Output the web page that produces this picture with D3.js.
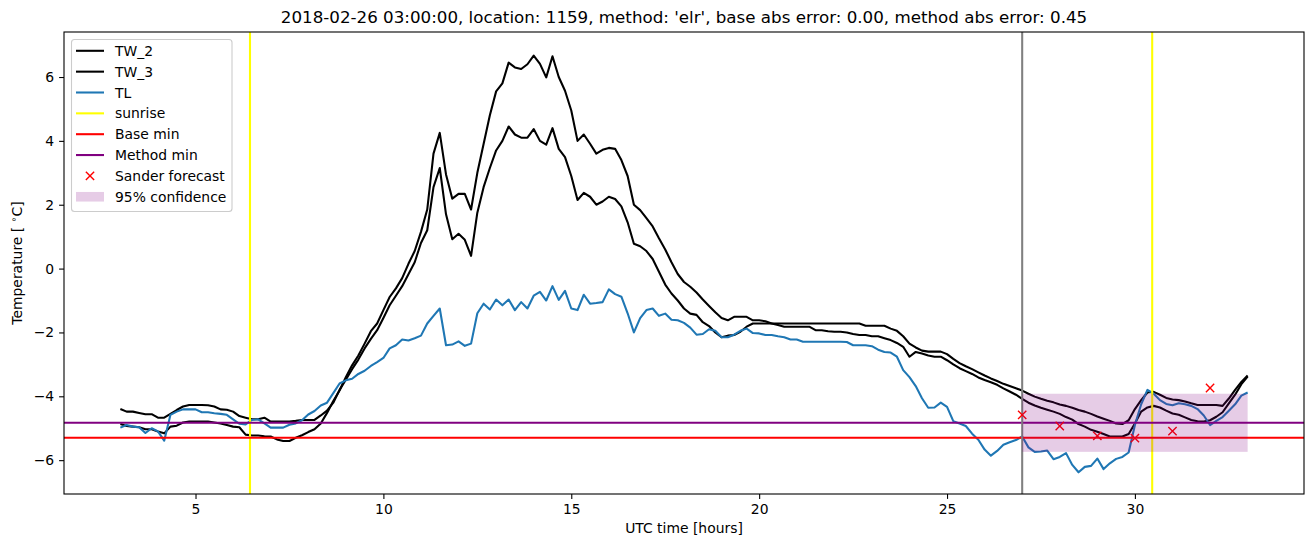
<!DOCTYPE html>
<html><head><meta charset="utf-8">
<script src="https://cdn.jsdelivr.net/npm/d3@7"></script>
<style>
body{margin:0;background:#fff}
svg{display:block}
text{font-family:"DejaVu Sans",sans-serif;fill:#000}
</style>
</head><body>
<svg id="chart" width="1313" height="547"></svg>
<script>
// ---------------- data ----------------
const startHour = 3;          // first sample, UTC hours
const stepHours = 1 / 6;      // 10-minute sampling

const tw2 = [
-4.87,-4.93,-4.95,-4.97,-5.03,-5.03,-5.10,-5.16,-4.95,-4.92,-4.82,-4.79,-4.79,-4.79,-4.79,-4.82,-4.85,-4.90,-4.95,-4.97,
-5.20,-5.23,-5.23,-5.25,-5.26,-5.35,-5.40,-5.40,-5.30,-5.22,-5.12,-5.03,-4.85,-4.52,-4.15,-3.82,-3.40,-3.03,-2.72,-2.35,
-1.96,-1.72,-1.30,-0.89,-0.62,-0.30,0.15,0.55,1.15,1.85,3.60,4.25,2.95,2.19,2.34,2.34,1.85,3.00,3.90,4.80,
5.55,5.80,6.45,6.30,6.25,6.40,6.67,6.41,5.99,6.65,6.00,5.57,4.95,4.00,4.20,3.91,3.60,3.72,3.78,3.75,
3.40,2.90,2.00,1.83,1.58,1.32,0.95,0.60,0.20,-0.17,-0.42,-0.57,-0.75,-0.97,-1.17,-1.37,-1.55,-1.62,-1.51,-1.51,
-1.51,-1.62,-1.62,-1.65,-1.72,-1.72,-1.72,-1.72,-1.72,-1.72,-1.72,-1.72,-1.72,-1.72,-1.72,-1.72,-1.72,-1.72,-1.72,-1.79,
-1.79,-1.79,-1.79,-1.88,-1.95,-2.12,-2.35,-2.47,-2.57,-2.60,-2.60,-2.60,-2.68,-2.83,-2.96,-3.06,-3.15,-3.25,-3.35,-3.44,
-3.52,-3.61,-3.68,-3.75,-3.82,-3.92,-4.01,-4.08,-4.14,-4.19,-4.26,-4.30,-4.36,-4.43,-4.48,-4.55,-4.63,-4.70,-4.77,-4.85,
-4.87,-4.75,-4.40,-4.12,-3.88,-3.86,-3.95,-4.05,-4.10,-4.12,-4.16,-4.22,-4.27,-4.27,-4.27,-4.27,-4.30,-4.07,-3.80,-3.55,
-3.35
];

const tw3 = [
-4.40,-4.48,-4.48,-4.52,-4.56,-4.56,-4.67,-4.67,-4.55,-4.43,-4.32,-4.27,-4.27,-4.27,-4.28,-4.32,-4.41,-4.42,-4.48,-4.62,
-4.67,-4.72,-4.72,-4.67,-4.79,-4.79,-4.79,-4.79,-4.77,-4.74,-4.74,-4.74,-4.60,-4.45,-4.20,-3.80,-3.48,-3.15,-2.85,-2.50,
-2.20,-1.93,-1.55,-1.15,-0.85,-0.55,-0.18,0.20,0.80,1.20,2.55,3.15,1.70,0.92,1.09,0.90,0.40,1.75,2.55,3.15,
3.70,4.00,4.45,4.20,4.10,4.10,4.37,4.00,3.88,4.40,3.75,3.49,2.90,2.15,2.37,2.25,2.00,2.10,2.25,2.18,
1.95,1.45,0.78,0.70,0.55,0.30,-0.10,-0.50,-0.78,-1.00,-1.25,-1.41,-1.45,-1.68,-1.80,-2.00,-2.15,-2.10,-2.08,-1.98,
-1.82,-1.72,-1.72,-1.72,-1.72,-1.77,-1.82,-1.82,-1.82,-1.82,-1.82,-1.93,-1.93,-1.96,-1.98,-1.98,-2.00,-2.05,-2.08,-2.08,
-2.12,-2.12,-2.18,-2.24,-2.33,-2.45,-2.76,-2.61,-2.66,-2.72,-2.76,-2.76,-2.87,-3.00,-3.12,-3.21,-3.30,-3.41,-3.49,-3.56,
-3.64,-3.75,-3.85,-3.95,-4.08,-4.20,-4.29,-4.36,-4.42,-4.48,-4.55,-4.65,-4.73,-4.87,-4.95,-5.05,-5.11,-5.18,-5.26,-5.26,
-5.26,-5.18,-4.85,-4.48,-4.35,-4.30,-4.35,-4.45,-4.54,-4.58,-4.66,-4.74,-4.78,-4.79,-4.75,-4.64,-4.50,-4.22,-3.95,-3.62,
-3.38
];

const tl = [
-4.98,-4.90,-4.95,-4.97,-5.15,-5.00,-5.10,-5.39,-4.58,-4.48,-4.41,-4.41,-4.41,-4.50,-4.50,-4.53,-4.55,-4.58,-4.72,-4.86,
-4.88,-4.74,-4.72,-4.85,-4.98,-4.98,-4.98,-4.89,-4.85,-4.75,-4.57,-4.46,-4.29,-4.20,-3.90,-3.60,-3.50,-3.45,-3.30,-3.20,
-3.05,-2.93,-2.80,-2.50,-2.40,-2.22,-2.25,-2.18,-2.10,-1.72,-1.48,-1.25,-2.40,-2.38,-2.28,-2.42,-2.35,-1.40,-1.10,-1.28,
-0.97,-1.15,-0.97,-1.30,-1.05,-1.25,-0.85,-0.73,-1.00,-0.55,-0.98,-0.70,-1.25,-1.30,-0.82,-1.10,-1.08,-1.05,-0.65,-0.80,
-0.88,-1.40,-2.00,-1.55,-1.30,-1.25,-1.48,-1.41,-1.60,-1.62,-1.70,-1.85,-2.07,-2.05,-1.90,-1.95,-2.15,-2.15,-2.07,-1.95,
-1.88,-2.02,-2.03,-2.08,-2.08,-2.12,-2.15,-2.22,-2.22,-2.29,-2.29,-2.29,-2.29,-2.29,-2.29,-2.29,-2.30,-2.40,-2.40,-2.40,
-2.43,-2.54,-2.61,-2.63,-2.76,-3.18,-3.40,-3.68,-4.06,-4.36,-4.35,-4.20,-4.33,-4.78,-4.85,-4.93,-5.17,-5.36,-5.67,-5.86,
-5.71,-5.52,-5.44,-5.37,-5.26,-5.60,-5.74,-5.73,-5.70,-5.97,-5.90,-5.78,-6.15,-6.38,-6.21,-6.18,-5.95,-6.28,-6.10,-5.96,
-5.90,-5.76,-4.90,-4.25,-3.80,-3.92,-4.12,-4.24,-4.28,-4.22,-4.25,-4.30,-4.40,-4.60,-4.90,-4.77,-4.65,-4.45,-4.25,-3.98,
-3.88
];

const sunriseHours = [6.45, 30.46];
const baseMin = -5.30;
const methodMin = -4.83;
const forecastHour = 27;
const sanderHours = [27, 28, 29, 30, 31, 32];
const sanderValues = [-4.58, -4.93, -5.24, -5.31, -5.09, -3.74];
const confHours = [27, 33];
const confLow = -5.74;
const confHigh = -3.92;
const xTicks = [5, 10, 15, 20, 25, 30];
const yTicks = [-6, -4, -2, 0, 2, 4, 6];
const titleText = "2018-02-26 03:00:00, location: 1159, method: 'elr', base abs error: 0.00, method abs error: 0.45";
const legendLabels = ["TW_2", "TW_3", "TL", "sunrise", "Base min", "Method min", "Sander forecast", "95% confidence"];

// ---------------- layout ----------------
const W = 1313, H = 547;
const L = 64, R = 1304, T = 32, B = 494;
const fs = 13.9;

const svg = d3.select("#chart");
const x = d3.scaleLinear().domain([1.5, 34.5]).range([L, R]);
const y = d3.scaleLinear().domain([-7.06, 7.41]).range([B, T]);

svg.append("defs").append("clipPath").attr("id", "clip")
  .append("rect").attr("x", L).attr("y", T).attr("width", R - L).attr("height", B - T);

const plot = svg.append("g").attr("clip-path", "url(#clip)");

function series(vals) {
  return vals.map((v, i) => ({t: startHour + i * stepHours, v}));
}
const line = d3.line().x(d => x(d.t)).y(d => y(d.v));

const black = "#000000", blue = "#1f77b4";
plot.append("path").datum(series(tw2)).attr("d", line)
  .attr("fill", "none").attr("stroke", black).attr("stroke-width", 2.08).attr("stroke-linejoin", "round");
plot.append("path").datum(series(tw3)).attr("d", line)
  .attr("fill", "none").attr("stroke", black).attr("stroke-width", 2.08).attr("stroke-linejoin", "round");
plot.append("path").datum(series(tl)).attr("d", line)
  .attr("fill", "none").attr("stroke", blue).attr("stroke-width", 2.08).attr("stroke-linejoin", "round");

// sunrise lines
plot.selectAll(".sun").data(sunriseHours).enter().append("line")
  .attr("x1", d => x(d)).attr("x2", d => x(d)).attr("y1", T).attr("y2", B)
  .attr("stroke", "#ffff00").attr("stroke-width", 2.08);

// horizontal min lines
plot.append("line").attr("x1", L).attr("x2", R).attr("y1", y(baseMin)).attr("y2", y(baseMin))
  .attr("stroke", "#ff0000").attr("stroke-width", 2.08);
plot.append("line").attr("x1", L).attr("x2", R).attr("y1", y(methodMin)).attr("y2", y(methodMin))
  .attr("stroke", "#800080").attr("stroke-width", 2.08);

// forecast time
plot.append("line").attr("x1", x(forecastHour)).attr("x2", x(forecastHour)).attr("y1", T).attr("y2", B)
  .attr("stroke", "#808080").attr("stroke-width", 2.08);

// Sander forecast markers
function xMark(g, cx, cy, s) {
  g.append("path").attr("d", `M${cx - s},${cy - s}L${cx + s},${cy + s}M${cx - s},${cy + s}L${cx + s},${cy - s}`)
    .attr("stroke", "#ff0000").attr("stroke-width", 1.39).attr("fill", "none");
}
sanderHours.forEach((h, i) => xMark(plot, x(h), y(sanderValues[i]), 4.15));

// confidence band
plot.append("rect").attr("x", x(confHours[0])).attr("width", x(confHours[1]) - x(confHours[0]))
  .attr("y", y(confHigh)).attr("height", y(confLow) - y(confHigh))
  .attr("fill", "#800080").attr("fill-opacity", 0.2);

// ---------------- axes ----------------
const xAxis = d3.axisBottom(x).tickValues(xTicks).tickFormat(d3.format("d"))
  .tickSize(4.9).tickPadding(4.9).tickSizeOuter(0);
const yAxis = d3.axisLeft(y).tickValues(yTicks).tickFormat(d3.format("d"))
  .tickSize(4.9).tickPadding(4.9).tickSizeOuter(0);

const gx = svg.append("g").attr("transform", `translate(0,${B})`).call(xAxis);
const gy = svg.append("g").attr("transform", `translate(${L},0)`).call(yAxis);
[gx, gy].forEach(g => {
  g.select(".domain").remove();
  g.selectAll(".tick line").attr("stroke", "#000").attr("stroke-width", 1.1);
  g.selectAll(".tick text").attr("font-size", fs).attr("font-family", "DejaVu Sans").attr("fill", "#000");
});

svg.append("rect").attr("x", L).attr("y", T).attr("width", R - L).attr("height", B - T)
  .attr("fill", "none").attr("stroke", "#000").attr("stroke-width", 1.1);

// labels
svg.append("text").attr("x", (L + R) / 2).attr("y", 533).attr("text-anchor", "middle")
  .attr("font-size", fs).text("UTC time [hours]");

const yl = svg.append("text").attr("transform", `translate(22,${(T + B) / 2}) rotate(-90)`)
  .attr("text-anchor", "middle").attr("font-size", fs);
yl.append("tspan").text("Temperature [ ");
yl.append("tspan").attr("dy", -5).attr("font-size", 9.5).text("∘");
yl.append("tspan").attr("dy", 5).text("C]");

svg.append("text").attr("x", (L + R) / 2).attr("y", 23).attr("text-anchor", "middle")
  .attr("font-size", 16.7).text(titleText);

// ---------------- legend ----------------
const lg = svg.append("g");
lg.append("rect").attr("x", 71.5).attr("y", 39.5).attr("width", 160.5).attr("height", 172).attr("rx", 3)
  .attr("fill", "#fff").attr("fill-opacity", 0.8).attr("stroke", "#cccccc").attr("stroke-width", 1.1);
const legendKinds = [
  {k: "line", c: black}, {k: "line", c: black}, {k: "line", c: blue}, {k: "line", c: "#ffff00"},
  {k: "line", c: "#ff0000"}, {k: "line", c: "#800080"}, {k: "mark", c: "#ff0000"}, {k: "patch", c: "#800080"}
];
legendLabels.forEach((lab, i) => {
  const cy = 50.8 + i * 20.85;
  const kd = legendKinds[i];
  if (kd.k === "line") {
    lg.append("line").attr("x1", 76).attr("x2", 104).attr("y1", cy).attr("y2", cy)
      .attr("stroke", kd.c).attr("stroke-width", 2.08);
  } else if (kd.k === "mark") {
    xMark(lg, 90, cy, 4.15);
  } else {
    lg.append("rect").attr("x", 76).attr("width", 28).attr("y", cy - 4.8).attr("height", 9.6)
      .attr("fill", kd.c).attr("fill-opacity", 0.2);
  }
  lg.append("text").attr("x", 115).attr("y", cy).attr("dy", "0.36em").attr("font-size", fs).text(lab);
});
</script>
</body></html>
